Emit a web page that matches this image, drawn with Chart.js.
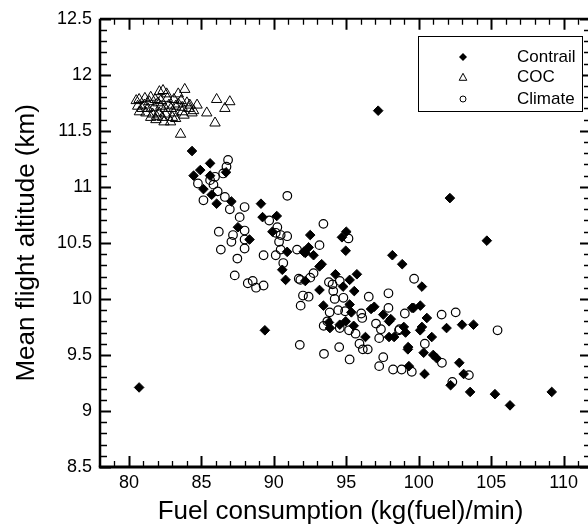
<!DOCTYPE html>
<html>
<head>
<meta charset="utf-8">
<script src="https://cdn.jsdelivr.net/npm/chart.js@4/dist/chart.umd.min.js"></script>
<style>
html,body{margin:0;padding:0;background:#fff;}
#wrap{width:588px;height:527px;}
</style>
</head>
<body>
<div id="wrap"><canvas id="c" width="588" height="527"></canvas></div>
<script>
// ---- data ----
const seriesNames = ["Contrail", "COC", "Climate"];
const xTicks = [80, 85, 90, 95, 100, 105, 110];
const yTicks = [8.5, 9, 9.5, 10, 10.5, 11, 11.5, 12, 12.5];
const xLabel = "Fuel consumption (kg(fuel)/min)";
const yLabel = "Mean flight altitude (km)";

const contrail = [
[80.7,9.21],[84.35,11.32],[85.6,11.21],[84.92,11.15],[84.46,11.1],[85.6,11.1],[86.7,11.13],
[85.14,10.98],[85.71,10.93],[86.05,10.85],[87.07,10.87],[89.11,10.85],[89.22,10.73],[90.2,10.74],
[87.52,10.64],[88.32,10.53],[89.9,10.6],[92.51,10.57],[94.7,10.55],[95.0,10.6],[94.96,10.43],
[90.92,10.42],[92.17,10.41],[92.4,10.46],[92.74,10.39],[92.06,10.42],[90.58,10.26],[93.15,10.29],
[93.3,10.31],[90.81,10.17],[92.17,10.16],[94.25,10.22],[95.23,10.17],[95.73,10.22],[93.15,10.08],
[94.78,10.11],[95.55,10.07],[93.42,9.94],[95.23,9.95],[93.8,9.79],[94.55,9.77],[89.38,9.72],
[98.18,10.39],[98.86,10.31],[100.22,10.11],[96.71,9.91],[96.93,9.93],[97.55,9.86],[98.07,9.82],
[95.35,9.88],[94.96,9.8],[93.87,9.74],[95.51,9.76],[99.65,9.92],[100.11,9.94],[100.56,9.83],
[100.22,9.75],[98.97,9.75],[99.09,9.7],[97.95,9.66],[98.3,9.66],[96.32,9.66],[100.9,9.66],
[99.27,9.57],[100.34,9.52],[101.0,9.5],[101.24,9.47],[101.92,9.74],[102.99,9.77],[103.78,9.77],
[102.8,9.43],[103.1,9.33],[103.55,9.17],[102.2,9.23],[99.32,9.4],[100.4,9.33],[105.26,9.15],
[106.3,9.05],[109.18,9.17],[102.15,10.9],[97.2,11.68],[104.7,10.52],[99.54,9.92],[97.95,9.8],
[100.1,9.72],[99.25,9.55]
];

const coc = [
[82.1,11.85],[82.35,11.86],[82.6,11.83],[83.4,11.83],[83.85,11.87],
[80.5,11.77],[80.7,11.78],[81.1,11.79],[81.5,11.8],[81.8,11.78],[82.2,11.77],[82.65,11.79],[83.1,11.78],
[83.6,11.77],[84.0,11.75],[84.7,11.73],[86.05,11.78],[86.96,11.76],
[80.6,11.72],[81.06,11.73],[81.74,11.71],[82.2,11.72],[82.76,11.73],[83.22,11.72],[83.67,11.71],
[84.12,11.7],[84.46,11.68],[86.62,11.7],
[80.72,11.67],[81.17,11.66],[81.63,11.65],[82.08,11.66],[82.53,11.65],[83.1,11.66],[83.67,11.67],
[84.35,11.66],[85.37,11.66],
[81.5,11.62],[81.86,11.6],[82.42,11.58],[82.87,11.58],[83.22,11.61],[85.94,11.57],
[83.56,11.47],
[81.3,11.7],[82.0,11.75],[82.9,11.7],[83.4,11.74],[81.9,11.63],[82.3,11.62],[83.0,11.62],
[83.8,11.64],[84.2,11.73],[82.5,11.7],[81.4,11.76],[80.9,11.7]
];

const climate = [
[86.84,11.24],[86.73,11.18],[86.5,11.12],[85.94,11.09],[84.76,11.03],[85.83,11.02],[85.6,11.06],
[86.12,10.96],[85.14,10.88],[86.62,10.91],[87.98,10.82],[86.96,10.8],[87.64,10.73],[89.68,10.7],
[90.24,10.64],[90.93,10.92],[93.42,10.67],[86.2,10.6],[87.18,10.57],[87.98,10.61],[87.98,10.53],
[87.07,10.51],[86.34,10.44],[87.98,10.45],[87.48,10.36],[89.29,10.39],[90.13,10.59],[90.47,10.57],
[90.92,10.56],[90.36,10.51],[90.47,10.44],[90.13,10.39],[90.65,10.32],[91.6,10.44],[93.15,10.48],
[95.15,10.54],[87.3,10.21],[88.2,10.14],[88.54,10.16],[88.77,10.1],[89.29,10.12],[91.72,10.18],
[92.51,10.19],[92.74,10.23],[93.8,10.15],[94.05,10.13],[94.55,10.16],[94.1,10.07],[92.01,10.03],
[92.4,10.02],[91.85,9.94],[94.2,10.0],[94.8,10.01],[93.85,9.88],[94.44,9.9],[94.92,9.89],
[93.44,9.76],[94.55,9.74],[91.83,10.17],[93.69,9.8],[95.19,9.72],[95.64,9.69],[96.03,9.87],
[96.1,9.83],[95.91,9.6],[96.14,9.55],[96.48,9.55],[96.55,10.02],[97.05,9.78],[97.39,9.73],
[97.27,9.65],[97.91,9.92],[97.91,10.05],[98.68,9.73],[99.04,9.87],[99.68,10.18],[100.42,9.6],
[101.58,9.86],[102.55,9.88],[91.79,9.59],[93.46,9.51],[94.51,9.57],[95.23,9.46],[97.55,9.48],
[97.27,9.4],[98.23,9.37],[98.82,9.37],[99.52,9.35],[101.6,9.43],[102.32,9.26],[103.46,9.32],
[105.44,9.72],[98.64,9.72]
];

// ---- chart ----
const FONT = "'Liberation Sans', Arial, sans-serif";
const toPts = a => a.map(p => ({x: p[0], y: p[1]}));

const frame = {
  id: 'frame',
  afterDatasetsDraw(chart) {
    const {ctx, chartArea: ca, scales: {x, y}} = chart;
    ctx.save();
    ctx.strokeStyle = '#000';
    const rightX = 591;
    for (let v = 8.5; v <= 12.5001; v += 0.1) {
      const vv = Math.round(v * 10) / 10;
      const major = Math.abs(vv * 2 - Math.round(vv * 2)) < 1e-6;
      const len = major ? 11 : 7;
      const py = Math.round(y.getPixelForValue(vv)) + 0.5;
      ctx.lineWidth = major ? 2 : 1.3;
      ctx.beginPath();
      ctx.moveTo(ca.left, py); ctx.lineTo(ca.left + len, py);
      ctx.moveTo(rightX, py); ctx.lineTo(rightX - len, py);
      ctx.stroke();
    }
    for (let v = 79; v <= 111; v += 1) {
      const major = v % 5 === 0;
      const len = major ? 11 : 6;
      const px = Math.round(x.getPixelForValue(v)) + 0.5;
      if (px > 588) continue;
      ctx.lineWidth = major ? 2 : 1.3;
      ctx.beginPath();
      ctx.moveTo(px, ca.bottom); ctx.lineTo(px, ca.bottom - len);
      ctx.moveTo(px, ca.top); ctx.lineTo(px, ca.top + len);
      ctx.stroke();
    }
    ctx.lineWidth = 2.5;
    ctx.beginPath();
    ctx.moveTo(ca.left, ca.top); ctx.lineTo(ca.left, ca.bottom);
    ctx.stroke();
    ctx.lineWidth = 3;
    ctx.beginPath();
    ctx.moveTo(ca.left - 1.2, ca.bottom); ctx.lineTo(588, ca.bottom);
    ctx.stroke();
    ctx.lineWidth = 2;
    ctx.beginPath();
    ctx.moveTo(ca.left, ca.top); ctx.lineTo(588, ca.top);
    ctx.stroke();
    ctx.restore();
  },
  afterDraw(chart) {
    const {ctx} = chart;
    ctx.save();
    const bx = 418.5, by = 36.5, bw = 164, bh = 75;
    ctx.fillStyle = '#fff';
    ctx.fillRect(bx, by, bw, bh);
    ctx.strokeStyle = '#000';
    ctx.lineWidth = 1;
    ctx.strokeRect(bx, by, bw, bh);
    const rows = [57, 77.5, 99];
    const mx = 463;
    ctx.fillStyle = '#000';
    ctx.beginPath();
    ctx.moveTo(mx, rows[0] - 4); ctx.lineTo(mx + 4, rows[0]);
    ctx.lineTo(mx, rows[0] + 4); ctx.lineTo(mx - 4, rows[0]); ctx.closePath();
    ctx.fill();
    ctx.lineWidth = 1;
    ctx.beginPath();
    ctx.moveTo(mx, rows[1] - 4.2); ctx.lineTo(mx + 3.8, rows[1] + 2.8);
    ctx.lineTo(mx - 3.8, rows[1] + 2.8); ctx.closePath();
    ctx.stroke();
    ctx.beginPath();
    ctx.arc(mx, rows[2], 3, 0, Math.PI * 2);
    ctx.stroke();
    ctx.font = '17px ' + FONT;
    ctx.textBaseline = 'middle';
    ctx.textAlign = 'left';
    ctx.fillStyle = '#000';
    seriesNames.forEach((n, i) => ctx.fillText(n, 517, rows[i]));
    ctx.restore();
  }
};

new Chart(document.getElementById('c'), {
  type: 'scatter',
  data: {
    datasets: [
      {label: seriesNames[1], data: toPts(coc), pointStyle: 'triangle', radius: 6,
       backgroundColor: 'rgba(0,0,0,0)', borderColor: '#000', borderWidth: 1},
      {label: seriesNames[0], data: toPts(contrail), pointStyle: 'rectRot', radius: 4.8,
       backgroundColor: '#000', borderColor: '#000', borderWidth: 1},
      {label: seriesNames[2], data: toPts(climate), pointStyle: 'circle', radius: 4.3,
       backgroundColor: 'rgba(0,0,0,0)', borderColor: '#000', borderWidth: 1.2}
    ]
  },
  options: {
    responsive: false,
    animation: false,
    events: [],
    layout: {padding: {top: 16, right: 0, bottom: 0, left: 0}},
    plugins: {legend: {display: false}, tooltip: {enabled: false}},
    scales: {
      x: {
        type: 'linear', min: 78, max: 111.2,
        afterBuildTicks: s => { s.ticks = xTicks.map(v => ({value: v})); },
        afterFit: s => { s.height = 60; },
        grid: {display: false, drawTicks: false},
        border: {display: false},
        ticks: {color: '#000', font: {family: FONT, size: 18}, padding: 5, maxRotation: 0,
                callback: v => String(v)},
        title: {display: true, text: xLabel, color: '#000', font: {family: FONT, size: 26},
                padding: {top: 0, bottom: 0}}
      },
      y: {
        type: 'linear', min: 8.5, max: 12.5,
        afterBuildTicks: s => { s.ticks = yTicks.map(v => ({value: v})); },
        afterFit: s => { s.width = 100; },
        grid: {display: false, drawTicks: false},
        border: {display: false},
        ticks: {color: '#000', font: {family: FONT, size: 18}, padding: 8,
                callback: v => String(v)},
        title: {display: true, text: yLabel, color: '#000', font: {family: FONT, size: 26},
                padding: {top: 11, bottom: 0}}
      }
    }
  },
  plugins: [frame]
});
</script>
</body>
</html>
